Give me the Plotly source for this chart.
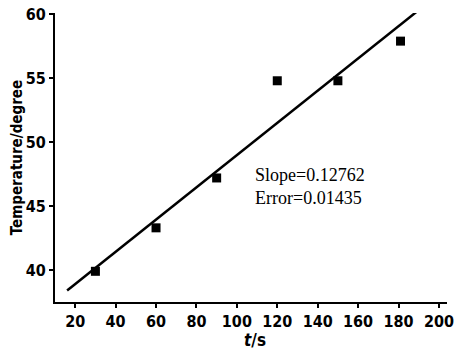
import plotly.graph_objects as go

# data
time_s = [30, 60, 90, 120, 150, 181]
temperature = [39.9, 43.3, 47.2, 54.8, 54.8, 57.9]
fit_x = [16, 189]
fit_y = [38.4, 60.2]
x_ticks = [20, 40, 60, 80, 100, 120, 140, 160, 180, 200]
y_ticks = [40, 45, 50, 55, 60]
slope_text = "Slope=0.12762"
error_text = "Error=0.01435"
x_title = "<i>t</i>/s"
y_title = "Temperature/degree"

sans = "DejaVu Sans Condensed, Liberation Sans Narrow, Liberation Sans, Arial"
tick_font = dict(family=sans, size=16, color="black", weight="bold")

fig = go.Figure()
fig.add_trace(go.Scatter(x=fit_x, y=fit_y, mode="lines",
                         line=dict(color="black", width=2.5), showlegend=False))
fig.add_trace(go.Scatter(x=time_s, y=temperature, mode="markers",
                         marker=dict(symbol="square", size=9, color="black"),
                         showlegend=False))

fig.add_annotation(x=0.505, y=0.401, xref="paper", yref="paper", xanchor="left", yanchor="middle",
                   text=slope_text + "<br>" + error_text, showarrow=False, align="left",
                   font=dict(family="Liberation Serif, Times New Roman", size=18, color="black"))
fig.add_annotation(x=0.51, y=-0.13, xref="paper", yref="paper", xanchor="center", yanchor="middle",
                   text=x_title, showarrow=False,
                   font=dict(family=sans, size=17, color="black", weight="bold"))

fig.update_layout(
    width=455, height=349,
    margin=dict(l=55, r=8, t=13, b=47),
    plot_bgcolor="white", paper_bgcolor="white",
    xaxis=dict(range=[10, 204], tickvals=x_ticks, showgrid=False, zeroline=False,
               automargin=False,
               showline=True, linecolor="black", linewidth=2,
               ticks="outside", ticklen=4, tickwidth=1.5, tickcolor="black",
               tickfont=tick_font),
    yaxis=dict(range=[37.5, 60.1], tickvals=y_ticks, showgrid=False, zeroline=False,
               automargin=False,
               showline=True, linecolor="black", linewidth=2,
               ticks="outside", ticklen=4, tickwidth=1.5, tickcolor="black",
               tickfont=tick_font,
               title=dict(text=y_title, font=dict(family=sans, size=15, color="black", weight="bold"), standoff=0)),
)

fig.write_html("out.html", config={"displayModeBar": False},
               post_script="document.body.style.margin='0px';")
